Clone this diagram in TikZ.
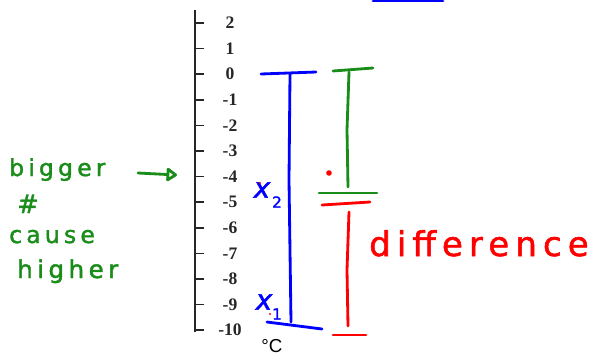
\documentclass[tikz,border=0pt]{standalone}
\usepackage{fontspec}
\setmainfont{Liberation Serif}
\newfontfamily\handfont{DejaVu Sans}[LetterSpace=18, FakeBold=1.6]
\newfontfamily\xfont{DejaVu Sans}[FakeBold=1.6]
\newfontfamily\unitfont{Liberation Sans}
\usepackage{xcolor}
\usepackage{tikz}
\usetikzlibrary{arrows.meta}

\definecolor{penblue}{RGB}{0,0,255}
\definecolor{pengreen}{RGB}{25,140,25}
\definecolor{penred}{RGB}{255,0,0}

\begin{document}
\begin{tikzpicture}[
  x=0.03cm, y=-0.03cm,
  axisline/.style={line width=2.2pt, black!85},
  tickmark/.style={line width=1.4pt, black!85},
  ticklabel/.style={inner sep=0pt, text=black!85, font=\fontsize{15}{15}\selectfont\bfseries},
  pen/.style={line width=2.4pt, line cap=round, line join=round},
  bluepen/.style={pen, draw=penblue},
  greenpen/.style={pen, draw=pengreen},
  redpen/.style={pen, draw=penred},
  handtxt/.style={inner sep=0pt, anchor=base west, font=\handfont\fontsize{20}{20}\selectfont},
  bigtxt/.style={handtxt, font=\handfont\fontsize{29}{29}\selectfont},
  sublbl/.style={inner sep=0pt, text=penblue, font=\xfont\itshape\fontsize{24}{24}\selectfont}
]
\useasboundingbox (0,0) rectangle (600,356);

% temperature scale
\draw[axisline] (195,10) -- (195,332);
\foreach \v [count=\i from 0] in {2,1,...,-10}{
  \draw[tickmark] (195,{23+25.6*\i}) -- (204,{23+25.6*\i});
  \node[ticklabel] (t\i) at (230,{23+25.6*\i}) {\v};
}
\node[inner sep=0pt, font=\unitfont\fontsize{16}{16}\selectfont] (unit) at (272,346) {°C};

% blue: x2 down to x1
\draw[bluepen] (373,1) -- (443,1);
\draw[bluepen] (261,74) -- (316,72);
\draw[bluepen] (290,74) -- (289,180) -- (291,322);
\draw[bluepen] (267,322) -- (322,329);
\node[sublbl] (xtwo) at (262,190) {x};
\node[sublbl, font=\xfont\fontsize{13}{13}\selectfont] (xtwosub) at (277,202) {2};
\node[sublbl] (xone) at (264,302) {x};
\node[sublbl, font=\xfont\fontsize{13}{13}\selectfont] (xonesub) at (277,314) {1};
\fill[penred] (260,183) circle (1.2);
\fill[penred] (270,314) circle (1.2);

% green part
\draw[greenpen] (333,71) -- (373,68);
\draw[greenpen] (349,72) -- (347,130) -- (348,187);
\draw[greenpen] (319,193) -- (377,193);
\fill[penred] (329,173) circle (2.8);

% red part
\draw[redpen] (322,205) -- (370,202);
\draw[redpen] (349,212) -- (347,270) -- (348,326);
\draw[redpen] (333,335) -- (366,335);
\node[bigtxt, text=penred] (diff) at (369,256) {difference};

% note on the left
\node[handtxt, text=pengreen] (bigger) at (9,176) {bigger};
\node[handtxt, text=pengreen, font=\handfont\fontsize{22}{22}\selectfont] (hash) at (17,213) {\#};
\node[handtxt, text=pengreen] (cause) at (9,243) {cause};
\node[handtxt, text=pengreen, font=\handfont\fontsize{21}{21}\selectfont] (higher) at (17,278) {higher};
\coordinate (arrtail) at (138,173);
\coordinate (arrtip) at (177,175);
\draw[greenpen, -{Triangle[open, round, length=10pt, width=13pt]}] (arrtail) -- (arrtip);
\end{tikzpicture}
\end{document}
